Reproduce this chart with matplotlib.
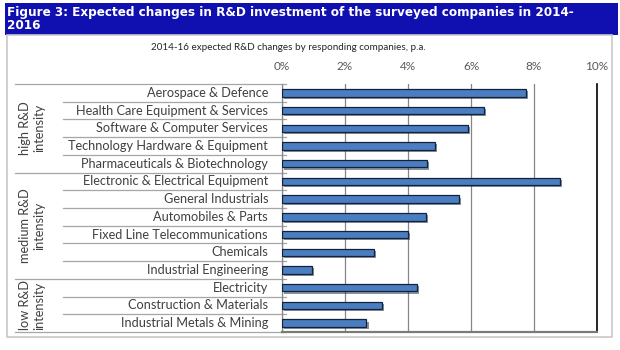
import matplotlib
matplotlib.use("Agg")
import matplotlib.pyplot as plt
import matplotlib.patheffects as pe
from matplotlib.transforms import blended_transform_factory
from matplotlib.patches import Rectangle
from matplotlib.lines import Line2D

categories = [
    "Aerospace & Defence",
    "Health Care Equipment & Services",
    "Software & Computer Services",
    "Technology Hardware & Equipment",
    "Pharmaceuticals & Biotechnology",
    "Electronic & Electrical Equipment",
    "General Industrials",
    "Automobiles & Parts",
    "Fixed Line Telecommunications",
    "Chemicals",
    "Industrial Engineering",
    "Electricity",
    "Construction & Materials",
    "Industrial Metals & Mining",
]
values = [7.75, 6.41, 5.90, 4.86, 4.61, 8.83, 5.63, 4.56, 4.00, 2.91, 0.94, 4.29, 3.18, 2.68]
groups = ["high R&D\nintensity", "medium R&D\nintensity", "low R&D\nintensity"]
group_sizes = [5, 6, 3]
xticks = [0, 2, 4, 6, 8, 10]
xtick_labels = ["0%", "2%", "4%", "6%", "8%", "10%"]
title = "Figure 3: Expected changes in R&D investment of the surveyed companies in 2014-\n2016"
subtitle = "2014-16 expected R&D changes by responding companies, p.a."

W, H = 620, 350
fig = plt.figure(figsize=(W / 100, H / 100), dpi=100)
fig.patch.set_facecolor("white")

# title banner
fig.patches.append(Rectangle((5 / W, 1 - 35 / H), 613 / W, 32 / H, transform=fig.transFigure,
                             facecolor="#1010B0", edgecolor="none", zorder=0))
fig.text(7 / W, 1 - 19 / H, title, color="white", fontsize=9.6, fontweight="bold",
         family="DejaVu Sans", fontstretch="condensed", va="center", ha="left", linespacing=1.05)

# chart border
fig.patches.append(Rectangle((7 / W, 1 - 337 / H), 605 / W, 302 / H, transform=fig.transFigure,
                             facecolor="none", edgecolor="#c8c8c8", linewidth=1.2, zorder=0))

ax = fig.add_axes([282 / W, 1 - 332 / H, (597 - 282) / W, (332 - 84) / H])
ys = list(range(len(categories)))
ax.barh(ys, values, height=0.42, color="#4A7EC0", edgecolor="#14233d", linewidth=0.9, zorder=3,
        path_effects=[pe.SimplePatchShadow(offset=(1.5, -1.5), alpha=0.5), pe.Normal()])
ax.set_ylim(len(categories) - 0.5, -0.5)
ax.set_xlim(0, 10)
ax.set_xticks(xticks)
ax.set_xticklabels(xtick_labels, family="Lato", fontsize=8.5, color="#595959")
ax.xaxis.tick_top()
ax.tick_params(axis="x", length=0, pad=9)
ax.set_yticks([])
ax.grid(axis="x", color="#868686", linewidth=0.9, zorder=0)
ax.spines["top"].set_visible(False)
ax.spines["right"].set_color("black")
ax.spines["right"].set_linewidth(1.2)
ax.spines["bottom"].set_color("#7a7a7a")
ax.spines["bottom"].set_linewidth(1.6)
ax.spines["left"].set_color("#868686")
ax.spines["left"].set_linewidth(0.9)

tr = blended_transform_factory(fig.transFigure, ax.transData)
for i, c in enumerate(categories):
    ax.text(268 / W, i, c, transform=tr, ha="right", va="center", family="Lato",
            fontsize=9.2, color="#404040", clip_on=False)

# separator lines
bounds = [k - 0.5 for k in range(len(categories) + 1)]
group_edges = [-0.5]
acc = -0.5
for s in group_sizes:
    acc += s
    group_edges.append(acc)
for b in bounds:
    x0 = 15 / W if b in group_edges else 63 / W
    ax.add_line(Line2D([x0, 286 / W], [b, b], transform=tr, color="#a6a6a6", linewidth=0.9,
                       clip_on=False))

# group labels
start = -0.5
for g, s in zip(groups, group_sizes):
    mid = start + s / 2
    ax.text(32 / W, mid, g, transform=tr, rotation=90, ha="center", va="center", family="Lato",
            fontsize=9.2, color="#404040", linespacing=1.2, multialignment="center", clip_on=False)
    start += s

fig.text(288 / W, 1 - 48 / H, subtitle, ha="center", va="center", family="Lato", fontsize=7.1,
         color="#262626")

fig.savefig("out.png", dpi=100)
